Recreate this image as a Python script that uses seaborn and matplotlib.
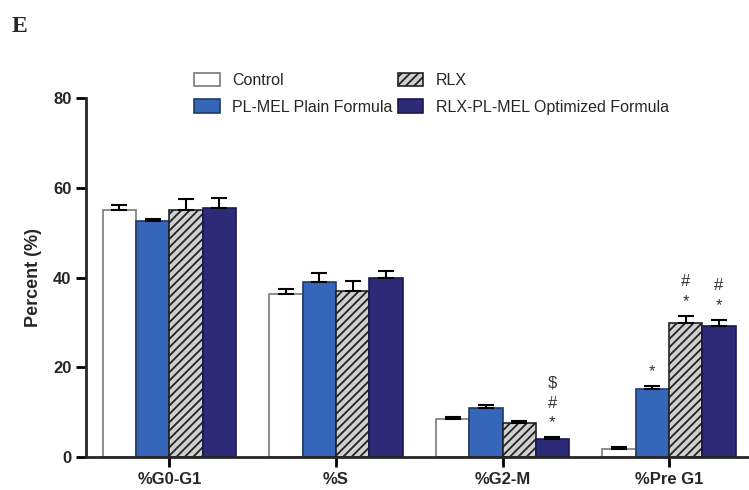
import pandas as pd
import matplotlib.pyplot as plt
import seaborn as sns

# valores
phases = ['%G0-G1', '%S', '%G2-M', '%Pre G1']
groups = ['Control', 'PL-MEL Plain Formula', 'RLX', 'RLX-PL-MEL Optimized Formula']
control = [55.0, 36.3, 8.5, 1.8]
plmel = [52.7, 39.0, 10.9, 15.1]
rlx = [55.0, 37.1, 7.7, 29.8]
rlx_plmel = [55.6, 40.0, 4.0, 29.3]
control_err = [1.2, 1.2, 0.5, 0.4]
plmel_err = [0.3, 2.0, 0.7, 0.7]
rlx_err = [2.5, 2.2, 0.3, 1.7]
rlx_plmel_err = [2.2, 1.5, 0.4, 1.3]
# anotaciones de significancia: (fase, grupo, texto)
marks = [('%G2-M', 'RLX-PL-MEL Optimized Formula', '$\n#\n*'),
         ('%Pre G1', 'PL-MEL Plain Formula', '*'),
         ('%Pre G1', 'RLX', '#\n*'),
         ('%Pre G1', 'RLX-PL-MEL Optimized Formula', '#\n*')]

vals = [control, plmel, rlx, rlx_plmel]
errs = [control_err, plmel_err, rlx_err, rlx_plmel_err]
df = pd.DataFrame([(p, g, v[i], e[i]) for g, v, e in zip(groups, vals, errs)
                   for i, p in enumerate(phases)],
                  columns=['phase', 'group', 'value', 'err'])

sns.set_style('ticks')
plt.rcParams['font.family'] = ['Liberation Sans', 'DejaVu Sans']
plt.rcParams['hatch.linewidth'] = 1.3

colors = {'Control': 'white', 'PL-MEL Plain Formula': '#3566b8',
          'RLX': '#cfcfcf', 'RLX-PL-MEL Optimized Formula': '#2d2a78'}
edges = {'Control': '#7a7a7a', 'PL-MEL Plain Formula': '#1e3a6a',
         'RLX': '#222222', 'RLX-PL-MEL Optimized Formula': '#1a1850'}

fig = plt.figure(figsize=(7.49, 4.90), dpi=100)
ax = fig.add_axes([0.115, 0.067, 0.885, 0.733])
sns.barplot(data=df, x='phase', y='value', hue='group', order=phases,
            hue_order=groups, palette=colors, width=0.8, saturation=1,
            legend=False, ax=ax)

for g, cont in zip(groups, ax.containers):
    sub = df[df.group == g].set_index('phase').loc[phases]
    xs = [b.get_x() + b.get_width() / 2 for b in cont]
    for b in cont:
        b.set_edgecolor(edges[g])
        b.set_linewidth(1.2)
        if g == 'RLX':
            b.set_hatch('////')
    ax.errorbar(xs, sub.value, yerr=[[0] * len(xs), sub.err], fmt='none',
                ecolor='black', elinewidth=1.5, capsize=6, capthick=1.5, zorder=1)
    for p, gg, t in marks:
        if gg == g:
            i = phases.index(p)
            ax.annotate(t, (xs[i], sub.value.iloc[i] + sub.err.iloc[i]),
                        xytext=(0, 5), textcoords='offset points', ha='center',
                        va='bottom', fontsize=12, color='#333333', linespacing=1.4)

ax.set_ylim(0, 80)
ax.set_xlim(-0.5, 3.48)
ax.set_yticks([0, 20, 40, 60, 80])
ax.set_xlabel('')
ax.set_ylabel('Percent (%)', fontsize=13, fontweight='bold', labelpad=8)
for lab in ax.get_xticklabels() + ax.get_yticklabels():
    lab.set_fontweight('bold')
    lab.set_fontsize(12)
ax.tick_params(width=2, length=7, color='black')
for s in ['left', 'bottom']:
    ax.spines[s].set_linewidth(2)
sns.despine(ax=ax)

fig.legend(ax.containers, groups, ncol=2, frameon=False, fontsize=11.5,
           loc='upper left', bbox_to_anchor=(0.24, 0.88), handlelength=1.6,
           handleheight=0.9, columnspacing=0.3, labelspacing=0.7, handletextpad=0.8)
fig.text(0.015, 0.935, 'E', fontsize=17, fontweight='bold', family='Liberation Serif')

plt.savefig('out.png')
